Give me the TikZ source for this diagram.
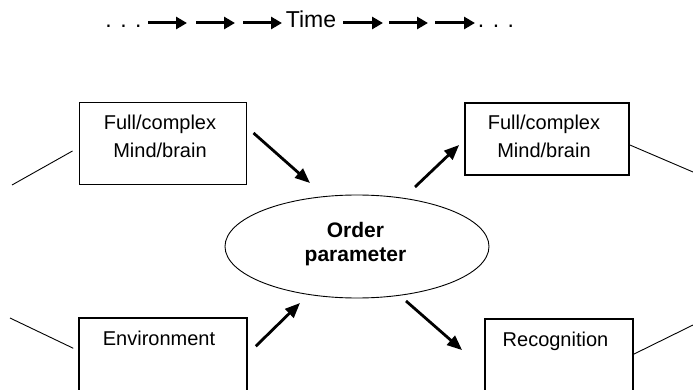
\documentclass[tikz,border=0pt]{standalone}
\usepackage{fontspec}
\setmainfont{Liberation Sans}
\usetikzlibrary{arrows.meta,shapes.geometric,calc}
\begin{document}
\begin{tikzpicture}[x=1pt,y=-1pt,
  box/.style={draw, line width=#1, inner sep=0pt},
  box/.default=1pt,
  lbl/.style={font=\fontsize{20}{28}\selectfont, align=center, inner sep=0pt},
  boldlbl/.style={font=\bfseries\fontsize{21}{24}\selectfont, align=center, inner sep=0pt},
  timelbl/.style={font=\fontsize{23}{27}\selectfont, inner sep=0pt},
  link/.style={line width=0.9pt},
  flow/.style={line width=2.8pt, -{Triangle[length=15pt,width=12pt]}},
  tickarrow/.style={line width=3pt, -{Triangle[length=11pt,width=12pt]}},
]
\useasboundingbox (0,0) rectangle (693,390);
\clip (0,0) rectangle (693,390);

% time row
\node[timelbl, anchor=base] (dl) at (123.5,28) {. . .};
\node[timelbl, anchor=base] (time) at (311,28) {Time};
\node[timelbl, anchor=base] (dr) at (496,28) {. . .};
\coordinate (t1) at (148,23);  \coordinate (t2) at (187,23);
\coordinate (t3) at (196,23);  \coordinate (t4) at (235,23);
\coordinate (t5) at (243,23);  \coordinate (t6) at (282,23);
\coordinate (t7) at (343,23);  \coordinate (t8) at (383,23);
\coordinate (t9) at (389,23);  \coordinate (t10) at (428,23);
\coordinate (t11) at (435,23); \coordinate (t12) at (475,23);
\draw[tickarrow] (t1) -- (t2);
\draw[tickarrow] (t3) -- (t4);
\draw[tickarrow] (t5) -- (t6);
\draw[tickarrow] (t7) -- (t8);
\draw[tickarrow] (t9) -- (t10);
\draw[tickarrow] (t11) -- (t12);

% boxes
\node[box=1pt, minimum width=167pt, minimum height=82pt] (tl) at (162.5,144) {};
\node[lbl] (tltxt) at (160,135.9) {Full/complex\\Mind/brain};
\node[box=1.8pt, minimum width=164pt, minimum height=72pt] (tr) at (547,139) {};
\node[lbl] (trtxt) at (544,135.9) {Full/complex\\Mind/brain};
\node[box=1.5pt, minimum width=168pt, minimum height=102pt] (bl) at (163,369) {};
\node[lbl, anchor=base] (bltxt) at (159,345) {Environment};
\node[box=1.8pt, minimum width=148pt, minimum height=101pt] (br) at (559,369.5) {};
\node[lbl, anchor=base] (brtxt) at (555.5,346) {Recognition};

% ellipse
\node[draw, ellipse, line width=0.9pt, minimum width=264pt, minimum height=103pt, inner sep=0pt] (op) at (357,246.5) {};
\node[boldlbl] (optxt) at (355.5,243.7) {Order\\parameter};

% side lines
\coordinate (le1) at (12,185);
\coordinate (re1) at (693,172);
\coordinate (le2) at (10,318);
\coordinate (re2) at (693,325);
\draw[link] ($(tl.west)+(-6,7)$) -- (le1);
\draw[link] ($(tr.east)+(0,6)$) -- (re1);
\draw[link] ($(bl.north west)+(-5,31)$) -- (le2);
\draw[link] ($(br.north east)+(0,36)$) -- (re2);

% arrows
\draw[flow] ($(tl.east)+(7,-11)$) -- ($(op.center)+(-47,-63.5)$);
\draw[flow] ($(op.center)+(58,-59.5)$) -- ($(tr.west)+(-5,6)$);
\draw[flow] ($(bl.north east)+(8,29)$) -- ($(op.center)+(-57,56.5)$);
\draw[flow] ($(op.center)+(49,54.5)$) -- ($(br.north west)+(-22,32)$);
\end{tikzpicture}
\end{document}
